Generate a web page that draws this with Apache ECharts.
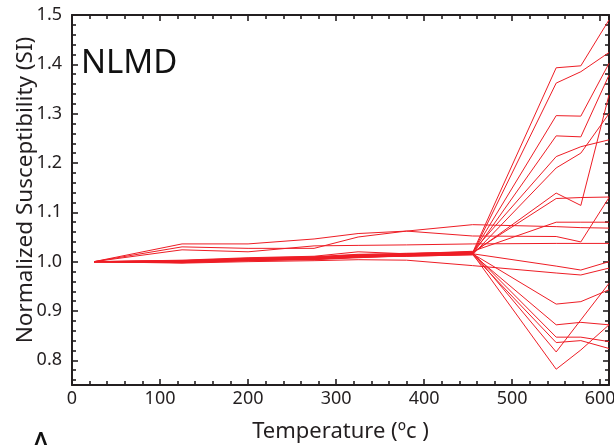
<!DOCTYPE html>
<html><head><meta charset="utf-8">
<script src="https://cdn.jsdelivr.net/npm/echarts@6/dist/echarts.min.js"></script>
<style>html,body{margin:0;padding:0;background:#fff}#c{width:614px;height:445px}</style>
</head><body><div id="c"></div>
<script>
// Temperatures (°C) of the measurement steps
const temps = [25, 125, 200, 275, 325, 380, 455, 550, 578, 610];

// Normalized susceptibility curves (one array per sample)
const up1 = [1, 1.002, 1.006, 1.009, 1.012, 1.014, 1.018, 1.393, 1.397, 1.490];
const up2 = [1, 1.001, 1.005, 1.008, 1.011, 1.013, 1.016, 1.362, 1.385, 1.424];
const up3 = [1, 1.000, 1.004, 1.007, 1.013, 1.012, 1.017, 1.296, 1.295, 1.402];
const up4 = [1, 0.999, 1.003, 1.006, 1.010, 1.015, 1.015, 1.255, 1.253, 1.378];
const up5 = [1, 1.002, 1.007, 1.010, 1.015, 1.016, 1.020, 1.213, 1.233, 1.247];
const up6 = [1, 1.001, 1.006, 1.005, 1.009, 1.011, 1.014, 1.190, 1.220, 1.300];
const up7 = [1, 0.998, 1.002, 1.004, 1.008, 1.012, 1.017, 1.139, 1.114, 1.338];
const up8 = [1, 1.000, 1.004, 1.006, 1.012, 1.014, 1.019, 1.128, 1.130, 1.131];
const up9 = [1, 1.003, 1.008, 1.011, 1.020, 1.016, 1.021, 1.080, 1.080, 1.080];
const hi1 = [1, 1.036, 1.036, 1.046, 1.057, 1.062, 1.075, 1.071, 1.069, 1.068];
const hi2 = [1, 1.030, 1.027, 1.027, 1.050, 1.062, 1.052, 1.051, 1.040, 1.130];
const hi3 = [1, 1.024, 1.020, 1.032, 1.033, 1.034, 1.036, 1.037, 1.037, 1.037];
const dn1 = [1, 1.001, 1.005, 1.007, 1.011, 1.013, 1.016, 0.914, 0.919, 0.943];
const dn2 = [1, 0.999, 1.003, 1.005, 1.009, 1.012, 1.015, 0.872, 0.877, 0.872];
const dn3 = [1, 1.000, 1.004, 1.008, 1.013, 1.015, 1.018, 0.847, 0.847, 0.838];
const dn4 = [1, 0.998, 1.002, 1.006, 1.010, 1.011, 1.014, 0.836, 0.840, 0.824];
const dn5 = [1, 1.001, 1.006, 1.009, 1.014, 1.017, 1.019, 0.817, 0.882, 0.956];
const dn6 = [1, 0.999, 1.004, 1.007, 1.011, 1.014, 1.016, 0.782, 0.821, 0.872];
const dn7 = [1, 1.000, 1.003, 1.006, 1.010, 1.013, 1.016, 0.991, 0.983, 1.000];
const dn8 = [1, 0.997, 1.000, 1.002, 1.004, 1.003, 0.992, 0.977, 0.973, 0.987];

const curves = [up1, up2, up3, up4, up5, up6, up7, up8, up9, hi1, hi2, hi3,
                dn1, dn2, dn3, dn4, dn5, dn6, dn7, dn8];

const xTickLabels = [0, 100, 200, 300, 400, 500, 600];
const yTickLabels = ['0.8', '0.9', '1.0', '1.1', '1.2', '1.3', '1.4', '1.5'];

const ink = '#231f20';
const red = '#ee1d25';
const FONT = 'Noto Sans';

const tickStyle = { color: ink, width: 1.6 };
function xAxisDef(pos, showLabel) {
  return {
    type: 'value', position: pos, min: 0, max: 610, interval: 100,
    axisLine: { show: true, onZero: false, lineStyle: { color: ink, width: 2 } },
    axisTick: { show: true, inside: true, length: 6, lineStyle: tickStyle },
    minorTick: { show: true, splitNumber: 5, length: 4, lineStyle: tickStyle },
    splitLine: { show: false },
    axisLabel: {
      show: showLabel, color: ink, fontSize: 18, fontFamily: FONT, margin: 5,
      formatter: v => (xTickLabels.indexOf(v) >= 0 ? String(v) : '')
    }
  };
}
function yAxisDef(pos, showLabel) {
  return {
    type: 'value', position: pos, min: 0.75, max: 1.5, splitNumber: 8,
    axisLine: { show: true, onZero: false, lineStyle: { color: ink, width: 2 } },
    axisTick: { show: true, inside: true, length: 6, lineStyle: tickStyle },
    minorTick: { show: true, splitNumber: 5, length: 4, lineStyle: tickStyle },
    splitLine: { show: false },
    axisLabel: {
      show: showLabel, color: ink, fontSize: 18, fontFamily: FONT, margin: 10,
      formatter: v => { const s = v.toFixed(1); return (yTickLabels.indexOf(s) >= 0 && Math.abs(v - Math.round(v * 10) / 10) < 1e-6) ? s : ''; }
    }
  };
}

const xb = xAxisDef('bottom', true);
xb.name = 'Temperature (\u00bac )';
xb.nameLocation = 'middle';
xb.nameGap = 36;
xb.nameMoveOverlap = false;
xb.nameTextStyle = { color: ink, fontSize: 22, fontFamily: FONT };
const yl = yAxisDef('left', true);
yl.name = 'Normalized Susceptibility (SI)';
yl.nameLocation = 'middle';
yl.nameGap = 35;
yl.nameMoveOverlap = false;
yl.nameTextStyle = { color: ink, fontSize: 22.5, fontFamily: FONT, padding: [0, 0, 0, 20] };

const chart = echarts.init(document.getElementById('c'), null, { renderer: 'canvas' });
chart.setOption({
  animation: false,
  backgroundColor: '#ffffff',
  grid: { left: 72, right: 5, top: 15, bottom: 60, containLabel: false, outerBoundsMode: 'none' },
  xAxis: [xb, xAxisDef('top', false)],
  yAxis: [yl, yAxisDef('right', false)],
  graphic: [
    { type: 'text', left: 81, top: 47, style: { text: 'NLMD', fontSize: 33, fontFamily: FONT, fill: '#111' } },
    { type: 'text', left: 30, top: 430, style: { text: 'A', fontSize: 34, fontFamily: FONT, fill: '#111' } }
  ],
  series: curves.map((c, k) => ({
    type: 'line', name: 's' + k, xAxisIndex: 0, yAxisIndex: 0,
    symbol: 'none', silent: true,
    lineStyle: { color: red, width: 1 },
    data: temps.map((t, i) => [t, c[i]])
  }))
});
</script>
</body></html>
